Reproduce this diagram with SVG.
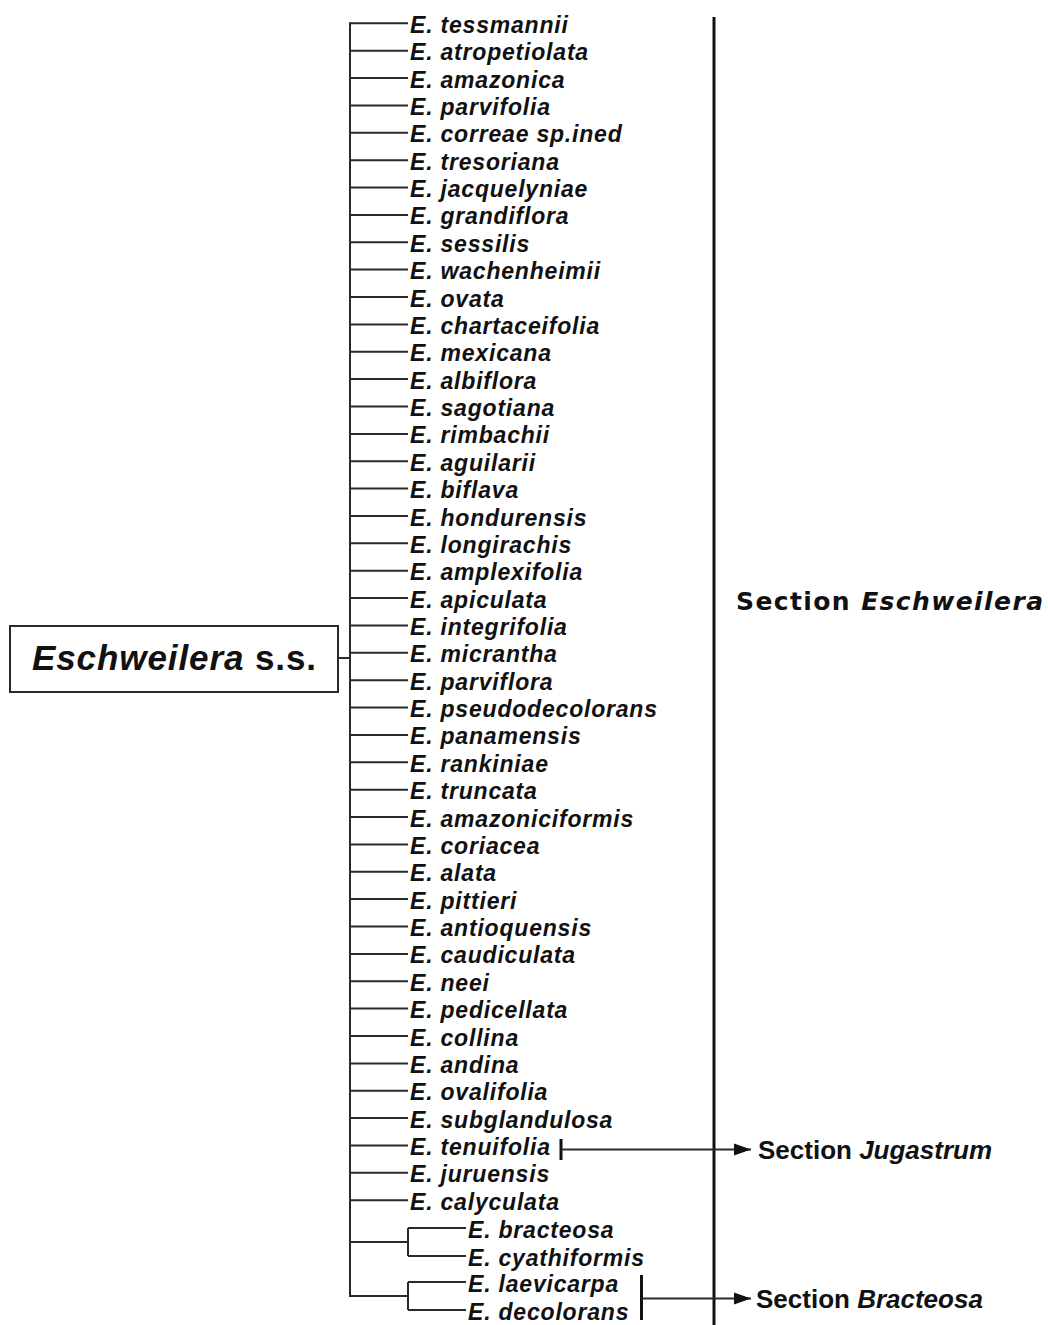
<svg xmlns="http://www.w3.org/2000/svg" width="1048" height="1325" viewBox="0 0 1048 1325">
<style>
.sp{font-family:"Liberation Sans",Arial,sans-serif;font-weight:bold;font-style:italic;font-size:23px;letter-spacing:0.8px;fill:#111}
.tr{stroke:#2a2a2a;stroke-width:2;fill:none}
.tick{stroke:#111;stroke-width:3;fill:none}
.sec{font-family:"Liberation Sans",Arial,sans-serif;font-weight:bold;font-size:26px;fill:#111}
.big{font-family:"DejaVu Sans",Verdana,sans-serif;font-weight:bold;font-size:25px;fill:#111}
</style>
<defs>
<marker id="ah" markerUnits="userSpaceOnUse" markerWidth="18" markerHeight="14" refX="17" refY="7" orient="auto">
<path d="M0,1 L17,7 L0,13 Z" fill="#111"/>
</marker>
</defs>
<rect width="1048" height="1325" fill="#fff"/>
<g id="root">
<rect x="10" y="626" width="328" height="66" fill="#fff" stroke="#2a2a2a" stroke-width="2"/>
<text x="32" y="670" font-family="Liberation Sans,Arial,sans-serif" font-weight="bold" font-size="35" fill="#111" textLength="284" lengthAdjust="spacing"><tspan font-style="italic">Eschweilera</tspan> s.s.</text>
</g>
<g id="connectors">
<path class="tr" d="M338,658 H350 M350,22.3 V1297"/>
<path class="tr" d="M350,23.3H408 M350,50.7H408 M350,78H408 M350,105.4H408 M350,132.8H408 M350,160.2H408 M350,187.5H408 M350,214.9H408 M350,242.3H408 M350,269.6H408 M350,297H408 M350,324.4H408 M350,351.7H408 M350,379.1H408 M350,406.5H408 M350,433.9H408 M350,461.2H408 M350,488.6H408 M350,516H408 M350,543.3H408 M350,570.7H408 M350,598.1H408 M350,625.4H408 M350,652.8H408 M350,680.2H408 M350,707.6H408 M350,734.9H408 M350,762.3H408 M350,789.7H408 M350,817H408 M350,844.4H408 M350,871.8H408 M350,899.1H408 M350,926.5H408 M350,953.9H408 M350,981.3H408 M350,1008.6H408 M350,1036H408 M350,1063.4H408 M350,1090.7H408 M350,1118.1H408 M350,1145.5H408 M350,1172.8H408 M350,1200.2H408"/>
<path class="tr" d="M350,1242H408 M408,1228V1256 M408,1228H466 M408,1256H466"/>
<path class="tr" d="M350,1296H408 M408,1282V1310 M408,1282H466 M408,1310H466"/>
<line x1="714" y1="17" x2="714" y2="1325" stroke="#111" stroke-width="3"/>
<path class="tick" d="M561,1139V1160"/>
<line class="tr" x1="561" y1="1149.5" x2="751" y2="1149.5" marker-end="url(#ah)"/>
<path class="tick" d="M641.5,1275V1320"/>
<line class="tr" x1="641.5" y1="1298.5" x2="751" y2="1298.5" marker-end="url(#ah)"/>
</g>
<g id="species">
<text class="sp" x="410" y="32.8">E. tessmannii</text>
<text class="sp" x="410" y="60.2">E. atropetiolata</text>
<text class="sp" x="410" y="87.5">E. amazonica</text>
<text class="sp" x="410" y="114.9">E. parvifolia</text>
<text class="sp" x="410" y="142.3">E. correae sp.ined</text>
<text class="sp" x="410" y="169.7">E. tresoriana</text>
<text class="sp" x="410" y="197">E. jacquelyniae</text>
<text class="sp" x="410" y="224.4">E. grandiflora</text>
<text class="sp" x="410" y="251.8">E. sessilis</text>
<text class="sp" x="410" y="279.1">E. wachenheimii</text>
<text class="sp" x="410" y="306.5">E. ovata</text>
<text class="sp" x="410" y="333.9">E. chartaceifolia</text>
<text class="sp" x="410" y="361.2">E. mexicana</text>
<text class="sp" x="410" y="388.6">E. albiflora</text>
<text class="sp" x="410" y="416">E. sagotiana</text>
<text class="sp" x="410" y="443.4">E. rimbachii</text>
<text class="sp" x="410" y="470.7">E. aguilarii</text>
<text class="sp" x="410" y="498.1">E. biflava</text>
<text class="sp" x="410" y="525.5">E. hondurensis</text>
<text class="sp" x="410" y="552.8">E. longirachis</text>
<text class="sp" x="410" y="580.2">E. amplexifolia</text>
<text class="sp" x="410" y="607.6">E. apiculata</text>
<text class="sp" x="410" y="634.9">E. integrifolia</text>
<text class="sp" x="410" y="662.3">E. micrantha</text>
<text class="sp" x="410" y="689.7">E. parviflora</text>
<text class="sp" x="410" y="717.1">E. pseudodecolorans</text>
<text class="sp" x="410" y="744.4">E. panamensis</text>
<text class="sp" x="410" y="771.8">E. rankiniae</text>
<text class="sp" x="410" y="799.2">E. truncata</text>
<text class="sp" x="410" y="826.5">E. amazoniciformis</text>
<text class="sp" x="410" y="853.9">E. coriacea</text>
<text class="sp" x="410" y="881.3">E. alata</text>
<text class="sp" x="410" y="908.6">E. pittieri</text>
<text class="sp" x="410" y="936">E. antioquensis</text>
<text class="sp" x="410" y="963.4">E. caudiculata</text>
<text class="sp" x="410" y="990.8">E. neei</text>
<text class="sp" x="410" y="1018.1">E. pedicellata</text>
<text class="sp" x="410" y="1045.5">E. collina</text>
<text class="sp" x="410" y="1072.9">E. andina</text>
<text class="sp" x="410" y="1100.2">E. ovalifolia</text>
<text class="sp" x="410" y="1127.6">E. subglandulosa</text>
<text class="sp" x="410" y="1155">E. tenuifolia</text>
<text class="sp" x="410" y="1182.3">E. juruensis</text>
<text class="sp" x="410" y="1209.7">E. calyculata</text>
<text class="sp" x="468" y="1237.5">E. bracteosa</text>
<text class="sp" x="468" y="1265.5">E. cyathiformis</text>
<text class="sp" x="468" y="1291.5">E. laevicarpa</text>
<text class="sp" x="468" y="1319.5">E. decolorans</text>
</g>
<g id="sections">
<text class="big" x="736" y="610" textLength="307" lengthAdjust="spacing">Section <tspan font-style="italic">Eschweilera</tspan></text>
<text class="sec" x="758" y="1158.5">Section <tspan font-style="italic">Jugastrum</tspan></text>
<text class="sec" x="756" y="1307.5">Section <tspan font-style="italic">Bracteosa</tspan></text>
</g>
</svg>
